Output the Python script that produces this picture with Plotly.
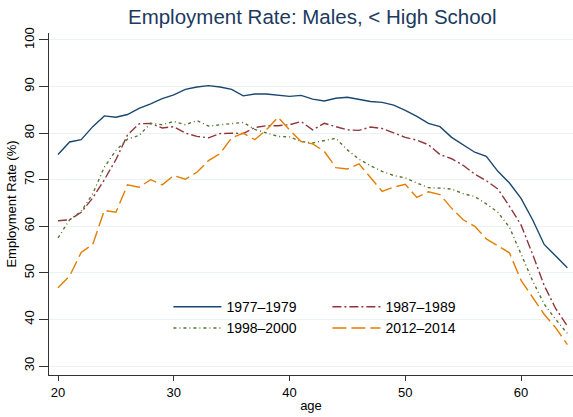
import plotly.graph_objects as go

ages = list(range(20, 65))

emp_1977_1979 = [75.4, 78.1, 78.6, 81.4, 83.7, 83.4, 84.0, 85.3, 86.3, 87.4,
                 88.2, 89.4, 89.9, 90.2, 89.9, 89.4, 88.0, 88.4, 88.4, 88.2,
                 87.9, 88.1, 87.3, 86.9, 87.5, 87.7, 87.3, 86.8, 86.6, 86.0,
                 84.9, 83.6, 82.1, 81.4, 79.1, 77.5, 75.9, 75.0, 71.8, 69.3,
                 66.0, 61.4, 56.1, 53.6, 51.1]

emp_1987_1989 = [61.2, 61.4, 63.0, 66.1, 70.0, 74.3, 79.6, 82.0, 82.1, 81.1,
                 81.4, 80.0, 79.3, 79.0, 79.9, 80.0, 79.9, 81.2, 81.6, 81.6,
                 81.8, 82.5, 80.7, 82.1, 81.4, 80.7, 80.6, 81.3, 81.0, 80.0,
                 79.1, 78.5, 77.5, 75.4, 74.5, 73.1, 71.2, 69.8, 68.0, 64.3,
                 60.3, 54.0, 47.3, 42.3, 38.6]

emp_1998_2000 = [57.5, 61.4, 63.2, 67.0, 72.7, 76.3, 78.7, 79.5, 82.1, 81.8,
                 82.5, 81.8, 82.7, 81.5, 81.8, 82.0, 82.3, 80.8, 80.0, 79.3,
                 79.2, 78.2, 77.9, 78.4, 78.9, 76.4, 74.4, 73.0, 71.8, 70.9,
                 70.4, 69.3, 68.3, 68.2, 68.0, 67.0, 66.4, 64.8, 63.0, 59.8,
                 54.0, 48.3, 43.3, 40.0, 37.0]

emp_2012_2014 = [46.8, 49.3, 54.4, 56.1, 63.4, 63.0, 68.9, 68.4, 70.0, 68.9,
                 70.9, 70.1, 71.6, 74.1, 75.6, 79.0, 80.0, 78.6, 80.7, 83.4,
                 80.7, 78.2, 77.7, 76.1, 72.6, 72.3, 73.4, 70.5, 67.5, 68.4,
                 69.0, 66.2, 67.4, 66.8, 63.9, 61.4, 60.0, 57.3, 55.8, 54.3,
                 48.4, 44.8, 41.1, 38.2, 34.6]

series_names = ["1977\u20131979", "1987\u20131989", "1998\u20132000", "2012\u20132014"]
series_values = [emp_1977_1979, emp_1987_1989, emp_1998_2000, emp_2012_2014]
colors = ["#1a476f", "#90353b", "#55752f", "#e37e00"]
dashes = ["solid", "9px,3px,2px,3px", "3px,3px,1px,3px", "14px,5px"]
legend_cols = ["legend", "legend2", "legend", "legend2"]

x_ticks = [20, 30, 40, 50, 60]
y_ticks = [30, 40, 50, 60, 70, 80, 90, 100]

fig = go.Figure()
for name, vals, c, d, lg in zip(series_names, series_values, colors, dashes, legend_cols):
    fig.add_trace(go.Scatter(x=ages, y=vals, mode="lines", name=name, legend=lg,
                             line=dict(color=c, width=1.4, dash=d)))

FONT = "Liberation Sans, Arial, Helvetica, sans-serif"
legend_style = dict(orientation="v", yanchor="top", xanchor="left",
                    bgcolor="rgba(0,0,0,0)", font=dict(size=14, color="#000000"),
                    itemwidth=48, tracegroupgap=0, traceorder="normal")

fig.update_layout(
    width=573, height=417,
    margin=dict(l=49, r=0, t=33, b=42),
    paper_bgcolor="white", plot_bgcolor="white",
    font=dict(family=FONT, color="#000000", size=13),
    title=dict(text="Employment Rate: Males, < High School",
               font=dict(size=20.5, color="#1c3a5e", family=FONT),
               x=0.545, xanchor="center", y=0.96, yanchor="middle"),
    showlegend=True,
    legend=dict(x=(168.4 - 49) / 524, y=0.245, **legend_style),
    legend2=dict(x=(327.4 - 49) / 524, y=0.245, **legend_style),
    shapes=[dict(type="rect", xref="paper", yref="paper",
                 x0=(159 - 49) / 524, x1=(467 - 49) / 524,
                 y0=(375 - 355) / 342, y1=(375 - 281) / 342,
                 fillcolor="white", line=dict(width=0), layer="below")],
    xaxis=dict(range=[19.22, 64.49], tickvals=x_ticks, ticks="outside", ticklen=5,
               tickcolor="#333333", showline=True, linecolor="#333333", linewidth=1,
               showgrid=False, zeroline=False, tickfont=dict(size=13),
               automargin=False,
               title=dict(text="age", font=dict(size=13), standoff=2)),
    yaxis=dict(range=[28.07, 101.5], tickvals=y_ticks, ticks="outside", ticklen=9,
               tickcolor="#333333", showline=True, linecolor="#333333", linewidth=1,
               showgrid=True, gridcolor="#eaf2f3", gridwidth=1, zeroline=False,
               tickangle=-90, tickfont=dict(size=13), automargin=False,
               title=dict(text="Employment Rate (%)", font=dict(size=13), standoff=2)),
)

fig.write_html("out.html", config={"displayModeBar": False},
               post_script="document.body.style.margin='0';")
